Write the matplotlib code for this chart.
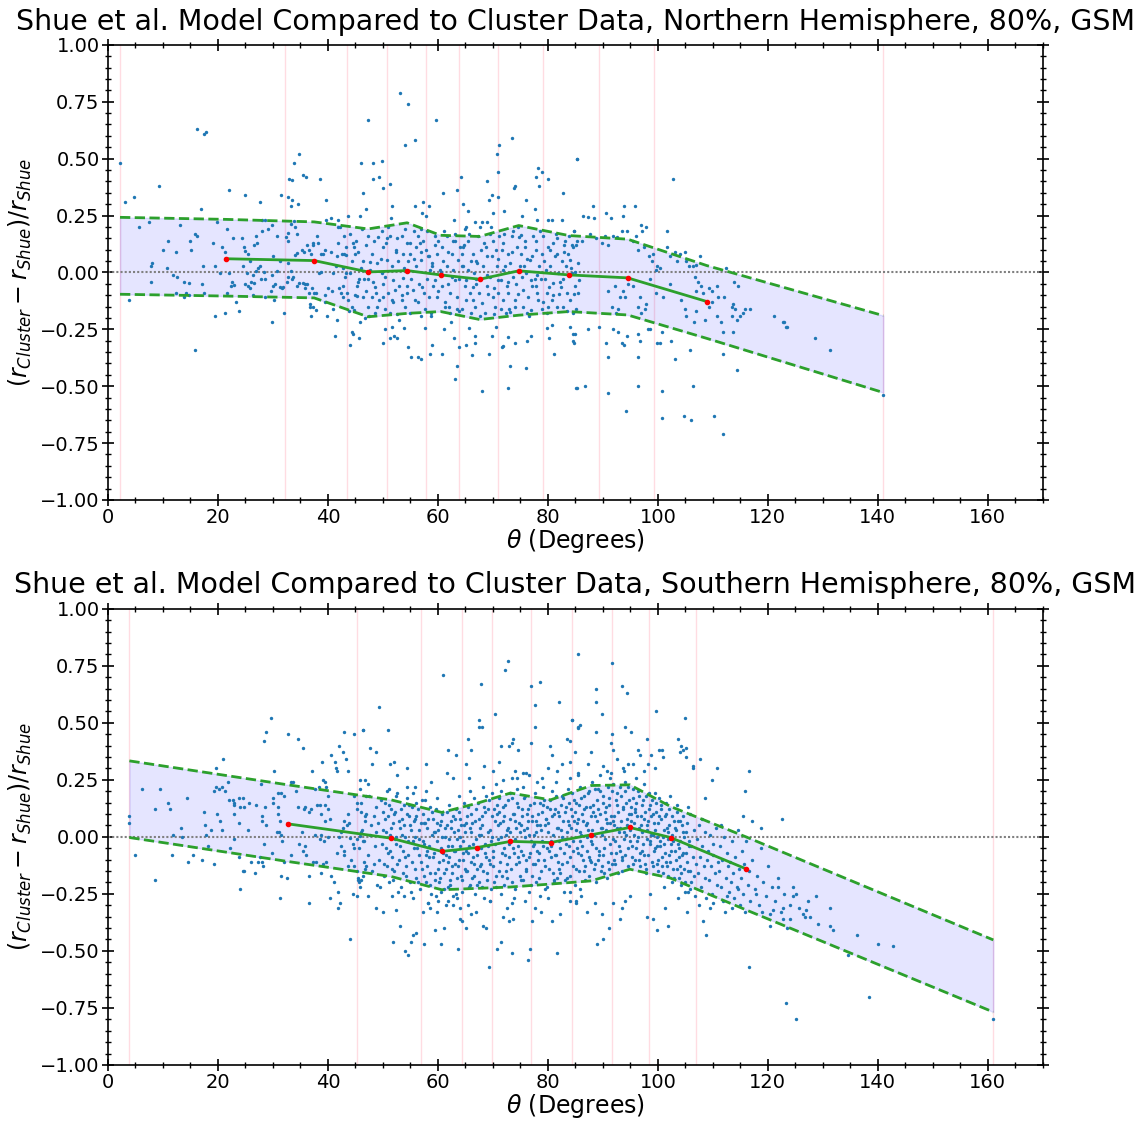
import matplotlib
matplotlib.use("Agg")
import matplotlib.pyplot as plt
from matplotlib.ticker import MultipleLocator

# ---------------- data ----------------
north_title = "Shue et al. Model Compared to Cluster Data, Northern Hemisphere, 80%, GSM"
south_title = "Shue et al. Model Compared to Cluster Data, Southern Hemisphere, 80%, GSM"
x_label = r"$\theta$ (Degrees)"
y_label = r"$(r_{Cluster} - r_{Shue})/r_{Shue}$"

north_bin_edges = [2.2, 32.2, 43.5, 50.8, 57.8, 63.9, 70.9, 79.2, 89.3, 99.3, 141.0]
north_med_theta = [21.5, 37.5, 47.3, 54.4, 60.5, 67.6, 74.7, 83.8, 94.5, 108.9]
north_med_value = [0.060, 0.052, 0.002, 0.008, -0.011, -0.030, 0.007, -0.011, -0.024, -0.128]
north_upper = [0.242, 0.233, 0.222, 0.191, 0.218, 0.163, 0.158, 0.206, 0.162, 0.146, 0.030, -0.190]
north_lower = [-0.096, -0.104, -0.112, -0.195, -0.180, -0.172, -0.207, -0.188, -0.172, -0.187, -0.290, -0.528]

south_bin_edges = [3.9, 45.2, 57.0, 64.3, 69.9, 76.9, 84.3, 91.6, 98.4, 106.9, 161.0]
south_med_theta = [32.7, 51.5, 60.7, 67.1, 73.2, 80.5, 87.9, 94.9, 102.3, 116.0]
south_med_value = [0.057, -0.006, -0.064, -0.047, -0.020, -0.025, 0.009, 0.041, -0.003, -0.140]
south_upper = [0.333, 0.228, 0.162, 0.107, 0.147, 0.192, 0.162, 0.225, 0.228, 0.133, 0.000, -0.452]
south_lower = [-0.003, -0.108, -0.174, -0.232, -0.226, -0.220, -0.207, -0.193, -0.142, -0.181, -0.320, -0.768]

north_points = [
    (2.2,0.48),(16.2,0.63),(17.5,0.61),(17.9,0.615),(3.1,0.31),(4.8,0.33),(9.2,0.38),(22.1,0.36),(24.9,0.34),(27.6,0.31),
    (17.0,0.28),(34.7,0.52),(33.9,0.48),(35.5,0.43),(36.1,0.42),(32.9,0.41),(33.5,0.405),(38.5,0.41),(31.5,0.34),(32.7,0.33),
    (33.4,0.32),(33.2,0.29),(34.5,0.30),(39.6,0.32),(5.6,0.20),(7.5,0.22),(13.1,0.21),(11.0,0.14),(10.1,0.10),(12.3,0.09),
    (15.0,0.14),(15.1,0.10),(15.9,0.17),(16.2,0.16),(8.0,0.04),(7.9,0.03),(10.7,0.02),(11.8,-0.01),(12.6,-0.02),(7.9,-0.04),
    (3.8,-0.12),(13.9,-0.04),(14.7,-0.045),(12.4,-0.09),(13.9,-0.11),(14.2,-0.09),(14.8,-0.10),(17.2,0.03),(17.1,-0.05),(17.4,-0.09),
    (19.1,0.13),(19.9,0.22),(19.4,0.03),(20.4,-0.003),(20.8,0.11),(21.6,0.19),(22.7,0.15),(21.2,0.09),(22.0,-0.004),(22.5,-0.04),
    (22.4,-0.06),(23.0,-0.056),(21.6,-0.09),(23.3,-0.13),(19.4,-0.19),(21.2,-0.18),(23.9,-0.17),(15.9,-0.34),(24.4,0.15),(24.7,0.11),
    (25.0,0.094),(24.6,0.03),(25.5,0.08),(25.8,0.05),(25.2,-0.004),(25.0,-0.05),(25.5,-0.06),(26.4,-0.01),(26.9,0.004),(27.3,0.02),
    (26.5,0.12),(27.1,0.13),(27.0,0.16),(28.0,0.23),(28.5,0.23),(28.0,0.18),(29.1,0.19),(29.9,0.21),(27.6,0.03),(28.3,0.0),
    (26.1,-0.04),(26.5,-0.045),(27.8,-0.03),(28.6,-0.03),(25.8,-0.07),(26.4,-0.10),(28.5,-0.11),(29.6,-0.08),(30.0,-0.06),(30.3,-0.05),
    (29.8,-0.01),(30.7,0.004),(30.0,0.07),(30.8,0.16),(31.2,0.05),(30.2,-0.12),(29.8,-0.22),(32.0,-0.18),(31.2,-0.066),(31.6,-0.068),
    (31.9,-0.066),(32.5,-0.04),(32.7,-0.02),(33.2,0.005),(32.7,0.04),(32.4,0.157),(32.8,0.172),(32.8,0.137),(33.3,0.213),(33.8,0.226),
    (34.1,0.198),(34.3,0.169),(34.3,0.084),(34.1,0.077),(33.5,-0.03),(33.7,-0.02),(34.4,-0.06),(34.8,-0.047),(35.5,-0.048),(35.8,-0.052),
    (36.2,-0.05),(35.2,0.10),(35.6,0.09),(36.2,0.12),(36.5,0.10),(36.9,0.08),(37.2,0.12),(38.1,0.16),(37.3,0.13),(38.2,0.128),
    (38.8,0.08),(39.1,0.08),(39.4,0.10),(35.8,-0.07),(36.6,-0.09),(37.1,-0.07),(37.5,-0.09),(37.9,-0.092),(36.8,-0.14),(37.3,-0.15),
    (37.8,-0.165),(36.7,-0.15),(36.9,-0.19),(38.4,-0.003),(38.8,-0.0),(39.5,-0.10),(39.8,-0.19),(39.4,-0.13),(40.1,-0.07),(40.7,-0.08),
    (40.9,-0.004),(40.6,0.09),(41.4,0.03),(41.8,0.13),(41.7,0.07),(42.1,-0.07),(42.4,-0.09),(42.8,-0.11),(43.2,-0.003),(43.0,0.08),
    (39.6,0.23),(40.5,0.24),(41.8,0.23),(41.9,0.20),(41.3,-0.28),(41.6,-0.21),(40.9,-0.16),
    # 42-86 outliers
    (53.2,0.79),(54.6,0.74),(47.3,0.67),(59.6,0.67),(54.1,0.56),(55.9,0.58),(73.4,0.59),(71.2,0.56),(70.7,0.52),(70.9,0.44),
    (46.1,0.48),(48.2,0.48),(49.8,0.49),(48.2,0.41),(49.3,0.42),(50.1,0.37),(51.3,0.39),(46.4,0.35),(47.0,0.28),(45.9,0.25),
    (43.6,0.25),(51.6,0.29),(51.5,0.24),(55.8,0.29),(57.3,0.31),(57.9,0.25),(58.4,0.29),(57.2,0.26),(60.9,0.35),(63.5,0.36),
    (64.2,0.42),(64.6,0.30),(65.5,0.27),(63.0,0.23),(65.2,0.20),(69.0,0.40),(69.3,0.32),(69.8,0.34),(70.1,0.26),(70.9,0.33),
    (72.0,0.27),(73.8,0.37),(74.1,0.38),(75.3,0.25),(76.1,0.32),(77.6,0.28),(78.1,0.23),(77.9,0.42),(78.4,0.38),(79.0,0.44),
    (80.1,0.41),(78.2,0.46),(82.8,0.35),(82.6,0.23),(85.3,0.50),(66.7,0.22),(67.6,0.20),(68.1,0.22),(69.0,0.22),(80.1,0.23),(80.8,0.23),
    (44.3,-0.26),(44.6,-0.27),(44.1,-0.32),(45.6,-0.29),(50.1,-0.31),(50.4,-0.25),(51.6,-0.24),(51.3,-0.29),(52.1,-0.28),(52.6,-0.29),
    (53.9,-0.245),(54.6,-0.33),(55.2,-0.37),(56.4,-0.37),(57.0,-0.38),(57.6,-0.245),(58.9,-0.32),(58.5,-0.36),(60.7,-0.36),(61.1,-0.25),
    (62.3,-0.22),(63.0,-0.29),(63.5,-0.41),(63.2,-0.47),(63.9,-0.33),(65.2,-0.32),(65.6,-0.245),(66.2,-0.365),(66.7,-0.28),(66.7,-0.31),
    (68.1,-0.52),(69.3,-0.36),(69.8,-0.28),(70.5,-0.24),(71.6,-0.33),(71.9,-0.325),(72.7,-0.51),(73.2,-0.41),(72.8,-0.285),(74.1,-0.31),
    (76.0,-0.42),(76.2,-0.30),(77.0,-0.28),(79.8,-0.245),(80.2,-0.29),(80.8,-0.23),(81.2,-0.36),(84.9,-0.27),(84.7,-0.31),(85.3,-0.51),
    # 42-86 dense band
    (42.5,0.08),(43.3,0.075),(43.1,-0.02),(42.7,-0.06),(43.4,-0.09),(44.0,-0.003),(44.3,0.05),(44.7,0.11),(45.1,0.14),(45.0,0.083),
    (45.5,0.09),(43.7,-0.12),(44.3,-0.15),(44.7,-0.165),(45.2,-0.06),(45.3,-0.105),(45.7,-0.03),(42.9,0.16),(44.0,0.17),(42.2,0.20),
    (46.0,0.02),(46.4,0.05),(46.5,-0.03),(47.0,0.12),(47.3,0.16),(47.6,0.047),(48.0,0.08),(48.2,-0.04),(48.5,-0.063),(48.7,-0.09),
    (48.0,-0.11),(48.9,0.04),(49.2,0.155),(49.3,-0.12),(47.3,-0.15),(46.4,-0.108),(47.5,-0.19),(48.5,-0.18),(45.8,-0.22),(46.7,-0.20),
    (49.8,0.18),(50.1,0.11),(50.6,0.13),(50.7,0.053),(51.3,0.16),(51.6,0.026),(51.9,-0.033),(52.2,-0.077),(52.5,0.15),(52.8,0.05),
    (50.1,-0.05),(50.0,-0.106),(50.4,-0.16),(51.3,-0.18),(51.9,-0.128),(53.0,-0.06),(51.0,-0.09),(52.6,-0.183),(49.8,-0.003),(52.4,0.09),
    (53.4,0.16),(54.0,0.19),(54.3,0.128),(54.6,0.05),(54.9,0.08),(55.2,-0.03),(55.5,-0.077),(55.8,-0.12),(56.1,0.11),(56.4,0.16),
    (56.7,0.13),(53.7,-0.025),(54.3,-0.09),(54.0,-0.15),(54.9,-0.18),(53.4,-0.12),(56.1,0.026),(56.6,-0.05),(55.6,0.18),(53.6,0.083),
    (57.0,0.053),(57.3,0.14),(57.8,0.10),(58.1,0.18),(58.6,0.01),(58.9,0.026),(59.2,-0.06),(59.5,-0.033),(59.8,-0.11),(58.3,-0.106),
    (57.7,-0.16),(58.7,-0.18),(60.1,0.14),(57.2,-0.063),(58.0,-0.03),(59.9,0.08),(59.4,0.16),(58.4,0.07),(60.3,0.01),(57.0,-0.19),
    (60.7,0.11),(61.0,0.05),(61.6,0.16),(61.9,-0.05),(62.2,-0.09),(62.5,0.08),(62.8,0.14),(63.1,-0.033),(63.4,-0.107),(63.7,0.053),
    (61.3,-0.15),(62.2,-0.18),(64.0,0.11),(62.8,0.01),(60.7,-0.06),(61.6,0.026),(63.4,-0.16),(63.9,-0.027),(61.1,0.18),(63.1,0.17),
    (64.3,0.08),(64.6,0.026),(65.1,-0.033),(65.5,0.14),(65.8,-0.09),(66.1,0.05),(66.4,0.083),(66.7,-0.15),(67.0,-0.03),(67.3,0.16),
    (65.2,-0.12),(64.6,0.11),(66.3,-0.063),(67.2,0.04),(64.3,-0.16),(66.0,-0.18),(64.9,0.19),(67.5,-0.09),(66.5,-0.004),(65.5,0.01),
    (67.9,0.10),(68.2,0.026),(68.7,0.11),(68.9,-0.06),(69.2,-0.093),(69.5,-0.02),(69.8,0.07),(70.1,0.14),(70.4,-0.15),(70.7,0.03),
    (71.0,-0.033),(68.1,-0.136),(68.5,-0.18),(70.0,-0.106),(69.4,0.17),(70.6,0.10),(71.2,0.16),(67.8,-0.027),(70.2,-0.183),(71.0,-0.09),
    (71.6,0.10),(71.9,0.13),(72.2,0.026),(72.5,-0.06),(72.8,-0.09),(73.1,0.04),(73.4,0.16),(73.7,-0.02),(74.0,-0.15),(74.3,0.11),
    (74.6,-0.093),(74.9,0.026),(71.8,-0.12),(72.4,-0.18),(73.2,-0.176),(74.2,-0.05),(71.4,-0.033),(74.8,0.156),(72.8,0.083),(73.7,0.18),
    (75.2,0.08),(75.5,-0.077),(75.8,0.11),(76.1,-0.003),(76.4,-0.106),(76.7,0.053),(77.0,-0.165),(77.3,0.16),(77.6,-0.03),(77.9,0.10),
    (78.2,-0.12),(75.4,-0.15),(76.2,-0.18),(77.2,-0.06),(78.4,0.026),(75.2,0.163),(77.8,0.14),(76.9,-0.033),(75.6,0.03),(78.1,-0.09),
    (78.9,0.08),(79.2,0.16),(79.5,-0.03),(79.8,-0.09),(80.1,0.11),(80.4,0.026),(80.7,-0.12),(81.0,-0.047),(81.3,0.07),(81.6,-0.15),
    (81.9,-0.004),(79.0,-0.16),(79.9,-0.18),(80.9,0.13),(82.1,-0.093),(79.3,0.05),(80.2,-0.063),(81.5,0.17),(78.7,-0.027),(81.7,0.083),
    (82.5,0.05),(82.8,-0.03),(83.1,0.14),(83.4,-0.09),(83.7,0.08),(84.0,-0.12),(84.3,-0.004),(84.6,0.11),(84.9,-0.06),(85.2,-0.16),
    (85.5,0.04),(82.7,-0.15),(83.9,0.16),(84.7,-0.093),(85.7,-0.033),(83.3,0.026),(84.5,-0.18),(85.3,0.14),(82.3,-0.063),(84.1,0.053),
    (42.8,0.02),(43.9,-0.17),(44.6,0.13),(45.4,-0.04),(46.2,0.19),(46.9,-0.08),(47.6,0.01),(48.4,0.14),(49.0,-0.15),(49.6,0.06),
    (50.4,-0.02),(51.0,0.20),(51.7,-0.12),(52.3,0.10),(53.0,-0.21),(53.8,0.02),(54.4,-0.06),(55.0,0.13),(55.7,0.06),(56.3,-0.13),
    (56.9,0.19),(57.5,-0.09),(58.2,0.07),(58.8,-0.19),(59.5,0.12),(60.0,-0.08),(60.6,0.0),(61.3,-0.13),(61.9,0.09),(62.5,-0.02),
    (63.2,0.14),(63.8,-0.17),(64.4,0.03),(65.0,-0.06),(65.7,0.17),(66.3,-0.12),(66.9,0.05),(67.6,-0.19),(68.3,0.13),(68.9,-0.01),
    (69.6,0.20),(70.2,-0.07),(70.9,0.06),(71.5,-0.16),(72.1,0.17),(72.8,-0.04),(73.4,0.09),(74.0,-0.12),(74.6,0.20),(75.3,-0.02),
    (75.9,0.14),(76.6,-0.19),(77.2,0.07),(77.8,-0.06),(78.5,0.18),(79.1,-0.13),(79.7,0.01),(80.4,0.10),(81.0,-0.10),(81.6,0.15),
    (82.2,-0.04),(82.9,0.09),(83.5,-0.17),(84.2,0.02),(84.8,0.18),(85.5,-0.09),(43.3,0.11),(44.9,-0.10),(47.2,-0.03),(50.8,0.15),
    (53.5,-0.10),(57.0,0.09),(59.0,0.04),(62.0,-0.15),(64.8,0.12),(67.0,-0.05),(69.0,0.07),(71.8,0.01),(73.0,-0.16),(76.2,0.06),
    (78.0,-0.01),(80.0,-0.15),(83.0,0.12),(85.0,0.0),
    # 84-128
    (86.4,0.25),(87.3,0.245),(88.2,0.29),(88.4,0.24),(90.5,0.26),(91.4,0.24),(93.8,0.29),(95.9,0.29),(93.7,0.25),
    (96.9,0.21),(97.8,0.20),(97.2,0.18),(101.6,0.18),(84.7,0.18),(84.4,0.12),(85.1,0.12),(86.2,0.14),(87.6,0.17),(88.7,0.15),
    (89.9,0.13),(91.0,0.12),(90.3,0.16),(91.8,0.16),(92.5,0.155),(93.4,0.18),(94.3,0.18),(95.5,0.14),(96.1,0.16),(96.4,0.10),
    (97.5,0.11),(98.4,0.07),(99.2,0.08),(99.0,0.05),(99.9,0.026),(99.6,0.01),(100.4,0.02),(101.6,0.11),(102.2,0.07),(103.1,0.09),
    (104.0,0.08),(104.9,0.09),(103.5,0.05),(105.2,0.05),(105.7,0.026),(106.4,0.03),(106.9,0.034),(107.6,0.07),(106.7,-0.02),(107.3,-0.04),
    (107.9,-0.06),(107.0,-0.08),(108.2,-0.09),(109.3,-0.07),(109.8,-0.08),(110.7,-0.06),(111.0,-0.11),(112.0,-0.106),(112.4,0.02),(113.9,-0.04),
    (114.6,-0.06),(113.7,-0.14),(113.4,-0.15),(114.1,-0.16),(115.4,-0.18),(115.8,-0.16),(114.9,-0.19),(114.3,-0.21),(116.7,-0.16),(121.1,-0.19),
    (122.8,-0.22),(123.3,-0.24),(91.0,-0.08),(91.6,-0.15),(92.4,-0.18),(92.8,-0.16),(93.1,-0.11),(92.2,-0.06),(93.7,-0.08),(94.0,-0.11),
    (94.6,-0.05),(95.5,-0.06),(96.4,-0.15),(97.0,-0.18),(97.6,-0.16),(97.9,-0.14),(96.7,-0.11),(98.5,-0.03),(99.6,-0.09),(101.0,-0.11),
    (102.2,-0.05),(104.2,-0.12),(104.9,-0.16),(105.2,-0.19),(106.5,-0.22),(106.9,-0.17),(108.5,-0.21),(109.3,-0.15),(109.8,-0.13),(110.7,-0.19),
    (111.4,-0.22),(111.9,-0.26),(113.6,-0.26),(113.5,-0.19),(84.0,-0.24),(84.6,-0.27),(84.6,-0.30),(87.3,-0.25),(89.3,-0.24),(90.5,-0.31),
    (91.0,-0.37),(91.9,-0.25),(92.8,-0.26),(93.4,-0.31),(93.9,-0.32),(94.3,-0.28),(96.4,-0.27),(96.4,-0.37),(96.8,-0.30),(98.2,-0.25),
    (98.6,-0.25),(99.9,-0.31),(100.4,-0.31),(100.8,-0.26),(102.3,-0.30),(103.1,-0.38),(105.9,-0.34),(111.9,-0.36),(114.4,-0.43),(85.2,-0.51),
    (86.7,-0.50),(91.0,-0.53),(94.2,-0.61),(96.4,-0.50),(100.8,-0.52),(100.7,-0.64),(104.7,-0.63),(106.1,-0.65),(106.4,-0.50),(110.2,-0.63),
    (111.9,-0.71),(85.3,0.50),(102.8,0.41),(123.0,-0.22),(123.4,-0.24),(128.5,-0.29),(131.3,-0.34),(141.0,-0.54),
]

south_points = [
    # 0-47
    (3.9,0.09),(3.9,0.06),(5.0,-0.08),(6.2,0.21),(8.5,0.12),(8.5,-0.19),(9.5,0.21),(10.9,0.15),(11.3,0.12),(11.6,-0.08),
    (11.9,0.01),(13.3,0.04),(13.4,0.0),(14.4,0.17),(14.5,-0.11),(15.5,-0.08),(17.1,-0.10),(17.4,0.11),(17.6,0.05),(18.2,-0.04),
    (17.8,0.01),(18.8,0.03),(19.2,-0.12),(19.3,0.20),(19.7,0.22),(20.2,0.21),(20.7,0.22),(21.2,0.20),(19.7,0.30),(21.0,0.34),
    (19.8,0.10),(20.4,0.07),(20.7,0.03),(21.9,0.24),(23.9,0.06),(23.0,-0.01),(22.2,-0.05),(23.8,-0.09),(24.1,-0.23),(25.5,0.03),
    (25.7,0.15),(28.4,0.42),(28.7,0.46),(29.6,0.52),(29.8,-0.07),(31.2,-0.27),(31.5,-0.17),(32.1,-0.11),(32.5,-0.18),
    (22.0,0.16),(22.7,0.16),(22.9,0.15),(23.0,0.10),(23.9,0.17),(24.5,0.17),(24.1,0.13),(24.8,0.13),(23.0,0.14),(24.5,-0.15),
    (24.8,-0.148),(26.1,-0.11),(26.7,-0.16),(27.3,-0.11),(28.0,-0.11),(28.2,-0.13),(27.6,-0.09),(27.0,0.14),(27.8,0.23),(28.5,0.13),
    (28.0,0.09),(28.0,0.07),(28.7,0.05),(28.4,-0.03),(30.0,0.17),(30.2,0.29),(30.0,0.15),(30.9,0.13),(31.0,0.10),(31.2,0.07),
    (31.0,0.19),(31.5,0.19),(32.0,0.18),(31.1,0.02),(30.8,0.02),(31.4,0.01),(31.6,-0.02),(32.8,0.45),(34.5,0.43),(35.5,0.39),
    (33.2,-0.08),(33.3,0.24),(33.6,0.24),(34.2,0.20),(34.5,0.13),(34.8,-0.03),(35.2,0.02),(35.5,-0.06),(35.8,-0.04),(36.1,-0.08),
    (35.6,0.12),(35.9,0.13),(36.6,0.11),(37.0,0.12),(37.1,0.29),(36.6,-0.17),(36.5,-0.29),(37.3,-0.11),(37.6,0.01),(37.9,-0.11),
    (37.7,0.21),(38.3,0.22),(38.9,0.33),(39.1,0.25),(39.4,0.24),(39.7,0.22),(40.0,0.18),(38.1,0.14),(38.5,0.14),(38.8,0.10),
    (39.5,0.14),(40.1,0.12),(40.4,0.08),(39.4,0.07),(38.8,0.01),(38.5,-0.01),(39.3,-0.02),(40.0,0.0),(38.7,-0.16),(39.1,-0.12),
    (39.7,-0.11),(40.3,-0.27),(40.5,-0.17),(41.1,-0.20),(41.8,-0.24),(41.9,-0.31),(42.2,-0.29),(41.7,-0.07),(42.1,0.0),(42.4,0.02),
    (42.7,0.04),(43.0,0.07),(43.5,0.05),(43.6,0.10),(43.9,0.06),(40.6,0.36),(41.2,0.33),(41.5,0.30),(41.6,0.29),(42.1,0.40),
    (42.7,0.37),(42.9,0.46),(43.3,0.34),(43.6,0.29),(44.8,0.45),(46.4,0.47),(43.0,-0.08),(43.6,-0.13),(44.2,-0.10),(44.8,-0.13),
    (45.2,-0.15),(45.5,-0.18),(45.6,-0.20),(45.9,-0.22),(46.1,-0.19),(46.4,-0.17),(46.7,-0.14),(47.0,-0.13),(44.1,-0.45),(44.5,-0.25),
    (45.2,-0.26),(44.8,0.18),(45.3,0.15),(45.8,0.25),(46.7,0.25),(47.0,0.18),(46.1,0.11),(46.7,0.09),(44.1,-0.003),(44.5,-0.03),
    (44.8,-0.05),(45.3,-0.01),(45.8,0.004),(46.1,0.02),(46.4,-0.02),(42.4,-0.04),(42.9,-0.06),
    # outliers 46-86
    (49.3,0.57),(46.4,0.47),(51.0,0.47),(60.9,0.71),(67.9,0.67),(72.7,0.77),(72.2,0.73),(76.9,0.66),(78.5,0.68),(77.6,0.58),
    (82.1,0.59),(84.4,0.51),(85.5,0.48),(70.4,0.54),(67.5,0.51),(68.1,0.48),(67.5,0.48),(77.6,0.48),(47.6,0.39),(48.8,0.37),
    (48.1,0.32),(65.5,0.43),(61.9,0.38),(63.3,0.36),(66.1,0.38),(73.0,0.40),(73.7,0.43),(73.5,0.41),(74.6,0.38),(77.0,0.41),
    (80.4,0.40),(71.4,0.40),(80.8,0.36),(83.4,0.43),(84.0,0.42),(51.3,0.32),(52.0,0.33),(54.3,0.30),(57.9,0.32),(52.5,0.27),
    (55.8,0.22),(58.8,0.24),(61.6,0.28),(62.8,0.26),(65.1,0.32),(65.7,0.26),(68.4,0.31),(70.1,0.29),(71.2,0.33),(74.0,0.29),
    (74.3,0.26),(75.5,0.28),(76.1,0.28),(76.6,0.27),(78.9,0.26),(80.1,0.30),(81.7,0.29),(82.5,0.32),(84.1,0.33),(85.5,0.28),
    (47.3,-0.26),(48.7,-0.31),(50.1,-0.33),(51.6,-0.26),(52.4,-0.32),(53.1,-0.39),(51.9,-0.46),(54.0,-0.50),(54.5,-0.52),(55.4,-0.43),
    (56.1,-0.42),(55.2,-0.46),(57.5,-0.47),(57.3,-0.33),(58.2,-0.29),(58.5,-0.31),(59.5,-0.41),(59.9,-0.33),(60.5,-0.47),(61.1,-0.40),
    (61.9,-0.28),(62.8,-0.30),(64.0,-0.31),(63.7,-0.49),(64.0,-0.36),(64.3,-0.37),(65.2,-0.40),(66.0,-0.34),(67.0,-0.33),(68.2,-0.39),
    (68.7,-0.40),(69.3,-0.57),(69.5,-0.28),(70.7,-0.49),(71.5,-0.46),(71.9,-0.35),(72.5,-0.31),(73.0,-0.37),(73.4,-0.29),(73.7,-0.36),
    (73.5,-0.51),(76.4,-0.54),(76.7,-0.49),(77.2,-0.37),(77.6,-0.31),(78.7,-0.33),(80.8,-0.37),(81.6,-0.51),(82.2,-0.34),(84.0,-0.28),
    (85.2,-0.29),
    # outliers 84-128
    (85.4,0.80),(91.7,0.76),(88.7,0.65),(93.4,0.66),(94.4,0.63),(88.7,0.59),(89.9,0.54),(99.6,0.55),(104.9,0.52),(85.8,0.49),
    (85.5,0.475),(88.8,0.46),(84.3,0.51),(91.6,0.45),(91.4,0.41),(94.0,0.48),(95.1,0.46),(98.1,0.43),(103.7,0.43),(104.2,0.40),
    (104.6,0.38),(105.1,0.39),(104.0,0.37),(105.1,0.35),(107.6,0.34),(106.3,0.31),(106.4,0.30),(110.7,0.30),(109.9,0.25),(108.6,0.17),
    (116.6,0.29),(115.8,0.20),(122.5,0.08),(115.5,0.09),(117.2,0.07),(118.8,0.04),(84.9,0.37),(87.3,0.32),(87.9,0.37),(90.7,0.29),
    (90.1,0.31),(91.3,0.26),(91.8,0.38),(92.5,0.34),(93.6,0.30),(94.6,0.32),(95.5,0.32),(96.4,0.38),(96.7,0.36),(97.5,0.29),
    (98.2,0.32),(98.8,0.36),(99.5,0.30),(100.2,0.38),(100.7,0.38),(101.0,0.35),(84.0,-0.24),(85.8,-0.23),(85.2,-0.28),(86.1,-0.26),
    (87.2,-0.33),(88.5,-0.29),(89.9,-0.34),(89.0,-0.47),(90.1,-0.45),(91.2,-0.40),(91.9,-0.29),(93.1,-0.36),(93.4,-0.31),(94.0,-0.28),
    (94.9,-0.26),(98.5,-0.25),(98.1,-0.35),(99.2,-0.36),(99.9,-0.41),(101.3,-0.31),(101.9,-0.39),(103.7,-0.27),(105.3,-0.33),(108.2,-0.37),
    (108.8,-0.43),(110.1,-0.29),(112.5,-0.26),(113.4,-0.31),(114.6,-0.23),(116.5,-0.57),(117.9,-0.25),(119.0,-0.33),(120.4,-0.39),(121.0,-0.32),
    (122.8,-0.36),(124.0,-0.36),(125.7,-0.31),(126.4,-0.34),(127.3,-0.28),(127.6,-0.35),
    (122.7,-0.31),(121.8,-0.22),(124.5,-0.26),(125.2,-0.25),(126.7,-0.35),(127.0,-0.32),(128.8,-0.26),(129.1,-0.38),(131.3,-0.39),(131.3,-0.31),
    (131.8,-0.41),(123.3,-0.73),(125.2,-0.80),(136.2,-0.43),(138.4,-0.70),(140.0,-0.47),(142.7,-0.48),(134.5,-0.52),(161.0,-0.80),
    # dense band 45-125
    (45.3,0.12),(45.6,-0.05),(45.9,0.21),(46.2,0.03),(46.5,-0.11),(46.8,0.07),(45.4,-0.19),(46.0,0.15),(46.6,-0.02),(47.0,0.10),
    (47.2,-0.08),(47.5,0.18),(47.7,0.01),(48.0,-0.15),(48.3,0.09),(48.5,-0.04),(48.7,0.13),(48.9,-0.21),(47.9,0.05),(48.4,-0.12),(47.3,0.23),(48.8,0.02),
    (49.1,0.06),(49.3,-0.10),(49.6,0.16),(49.8,-0.03),(50.0,0.11),(50.2,-0.17),(50.5,0.02),(50.7,0.20),(50.9,-0.07),(49.4,-0.22),(50.3,0.08),(50.8,-0.13),
    (51.1,0.14),(51.3,-0.06),(51.5,0.04),(51.8,-0.19),(52.0,0.10),(52.2,-0.01),(52.4,0.18),(52.6,-0.12),(52.9,0.07),(51.6,-0.14),(52.3,0.0),(52.8,-0.24),(51.2,0.21),
    (53.1,-0.04),(53.3,0.12),(53.6,-0.16),(53.8,0.05),(54.0,-0.09),(54.3,0.17),(54.5,-0.02),(54.7,0.09),(54.9,-0.20),(53.5,0.01),(54.2,-0.13),(54.8,0.14),(53.9,-0.26),(54.4,0.22),
    (55.1,0.03),(55.3,-0.11),(55.5,0.19),(55.7,-0.05),(55.9,0.08),(56.1,-0.18),(56.3,0.12),(56.5,-0.01),(56.7,-0.23),(56.9,0.06),(55.4,-0.27),(56.0,0.15),(56.6,-0.08),(55.8,0.0),
    (57.1,-0.14),(57.3,0.10),(57.5,-0.03),(57.7,0.16),(57.9,-0.20),(58.1,0.04),(58.3,-0.09),(58.5,0.13),(58.7,-0.25),(58.9,0.01),(57.4,0.06),(58.0,-0.06),(58.6,-0.16),(57.8,0.20),(58.2,-0.29),
    (59.1,0.08),(59.3,-0.07),(59.5,-0.19),(59.7,0.12),(59.9,-0.02),(60.1,-0.14),(60.3,0.05),(60.5,-0.24),(60.7,0.10),(60.9,-0.10),(59.4,0.02),(60.0,-0.28),(60.6,-0.05),(59.8,0.17),(60.2,-0.20),(60.8,0.0),
    (61.1,-0.16),(61.3,0.04),(61.5,-0.08),(61.7,0.11),(61.9,-0.22),(62.1,-0.01),(62.3,0.07),(62.5,-0.13),(62.7,-0.26),(62.9,0.02),(61.4,-0.30),(62.0,0.14),(62.6,-0.04),(61.8,-0.11),(62.2,-0.19),(62.8,0.09),
    (63.1,-0.06),(63.3,0.12),(63.5,-0.18),(63.7,0.03),(63.9,-0.10),(64.1,0.08),(64.3,-0.24),(64.5,-0.02),(64.7,0.15),(64.9,-0.14),(63.4,-0.27),(64.0,0.0),(64.6,-0.07),(63.8,0.18),(64.2,-0.17),(64.8,0.05),(63.2,-0.12),
    (65.1,0.06),(65.3,-0.15),(65.5,0.13),(65.7,-0.04),(65.9,-0.21),(66.1,0.02),(66.3,-0.09),(66.5,0.17),(66.7,-0.25),(66.9,-0.01),(65.4,-0.30),(66.0,0.10),(66.6,-0.12),(65.8,0.20),(66.2,-0.18),(66.8,0.07),(65.2,-0.06),
    (67.1,-0.08),(67.3,0.15),(67.5,-0.20),(67.7,0.04),(67.9,-0.12),(68.1,0.09),(68.3,-0.27),(68.5,-0.03),(68.7,0.18),(68.9,-0.16),(67.4,0.01),(68.0,-0.22),(68.6,0.11),(67.8,-0.05),(68.2,0.22),(68.8,-0.09),(67.2,-0.14),
    (69.1,0.12),(69.3,-0.10),(69.5,0.03),(69.7,-0.23),(69.9,0.19),(70.1,-0.06),(70.3,0.07),(70.5,-0.17),(70.7,0.14),(70.9,-0.01),(69.4,-0.28),(70.0,-0.13),(70.6,0.23),(69.8,0.0),(70.2,-0.20),(70.8,0.10),(69.2,-0.04),
    (71.1,-0.15),(71.3,0.06),(71.5,0.20),(71.7,-0.07),(71.9,0.13),(72.1,-0.21),(72.3,0.01),(72.5,-0.12),(72.7,0.16),(72.9,-0.03),(71.4,-0.25),(72.0,0.09),(72.6,-0.18),(71.8,0.25),(72.2,-0.08),(72.8,0.04),(71.2,0.11),
    (73.1,0.02),(73.3,-0.14),(73.5,0.17),(73.7,-0.05),(73.9,0.10),(74.1,-0.23),(74.3,0.21),(74.5,-0.09),(74.7,0.06),(74.9,-0.17),(73.4,0.26),(74.0,-0.01),(74.6,0.13),(73.8,-0.27),(74.2,0.04),(74.8,-0.11),(73.2,0.08),
    (75.1,-0.06),(75.3,0.12),(75.5,-0.19),(75.7,0.03),(75.9,0.18),(76.1,-0.10),(76.3,0.07),(76.5,-0.24),(76.7,0.14),(76.9,-0.02),(75.4,0.22),(76.0,-0.15),(76.6,0.01),(75.8,-0.28),(76.2,0.10),(76.8,-0.07),(75.2,0.05),
    (77.1,0.09),(77.3,-0.12),(77.5,0.01),(77.7,0.19),(77.9,-0.20),(78.1,0.05),(78.3,-0.07),(78.5,0.15),(78.7,-0.15),(78.9,0.11),(77.4,-0.03),(78.0,0.24),(78.6,-0.26),(77.8,0.07),(78.2,-0.10),(78.8,0.03),(77.2,-0.17),
    (79.1,-0.04),(79.3,0.16),(79.5,-0.13),(79.7,0.08),(79.9,-0.22),(80.1,0.02),(80.3,0.12),(80.5,-0.09),(80.7,0.20),(80.9,-0.16),(79.4,0.05),(80.0,-0.27),(80.6,-0.02),(79.8,0.13),(80.2,-0.06),(80.8,0.09),(79.2,0.22),
    (81.1,0.10),(81.3,-0.08),(81.5,0.18),(81.7,-0.18),(81.9,0.04),(82.1,-0.02),(82.3,0.14),(82.5,-0.12),(82.7,0.07),(82.9,-0.24),(81.4,0.24),(82.0,-0.14),(82.6,0.0),(81.8,0.11),(82.2,-0.05),(82.8,0.17),(81.2,-0.20),
    (83.1,-0.01),(83.3,0.13),(83.5,-0.11),(83.7,0.21),(83.9,0.05),(84.1,-0.17),(84.3,0.09),(84.5,-0.06),(84.7,0.16),(84.9,-0.21),(83.4,0.02),(84.0,0.26),(84.6,-0.13),(83.8,-0.04),(84.2,0.12),(84.8,0.07),(83.2,-0.19),
    (85.1,0.15),(85.3,-0.05),(85.5,0.08),(85.7,-0.15),(85.9,0.22),(86.1,0.01),(86.3,-0.10),(86.5,0.12),(86.7,-0.19),(86.9,0.05),(85.4,0.27),(86.0,-0.08),(86.6,0.18),(85.8,-0.02),(86.2,0.10),(86.8,-0.13),(85.2,0.03),
    (87.1,0.06),(87.3,0.19),(87.5,-0.09),(87.7,0.13),(87.9,-0.02),(88.1,0.24),(88.3,-0.14),(88.5,0.09),(88.7,-0.05),(88.9,0.16),(87.4,-0.17),(88.0,0.03),(88.6,0.21),(87.8,-0.11),(88.2,0.11),(88.8,-0.20),(87.2,0.0),
    (89.1,0.12),(89.3,-0.06),(89.5,0.20),(89.7,0.04),(89.9,-0.13),(90.1,0.15),(90.3,-0.01),(90.5,0.08),(90.7,-0.18),(90.9,0.22),(89.4,0.27),(90.0,-0.08),(90.6,0.13),(89.8,0.01),(90.2,-0.16),(90.8,0.06),(89.2,-0.10),
    (91.1,0.17),(91.3,-0.03),(91.5,0.09),(91.7,-0.12),(91.9,0.23),(92.1,0.05),(92.3,-0.07),(92.5,0.14),(92.7,-0.16),(92.9,0.02),(91.4,0.28),(92.0,-0.10),(92.6,0.19),(91.8,0.07),(92.2,-0.02),(92.8,0.11),(91.2,-0.14),
    (93.1,0.04),(93.3,0.18),(93.5,-0.09),(93.7,0.12),(93.9,-0.01),(94.1,0.24),(94.3,0.08),(94.5,-0.13),(94.7,0.16),(94.9,0.03),(93.4,-0.15),(94.0,0.20),(94.6,-0.05),(93.8,0.29),(94.2,0.01),(94.8,0.10),(93.2,-0.06),
    (95.1,0.13),(95.3,-0.04),(95.5,0.21),(95.7,0.06),(95.9,-0.10),(96.1,0.15),(96.3,0.0),(96.5,0.18),(96.7,-0.07),(96.9,0.09),(95.4,-0.12),(96.0,0.26),(96.6,0.04),(95.8,0.11),(96.2,-0.02),(96.8,-0.13),(95.2,0.07),
    (97.1,0.02),(97.3,0.16),(97.5,-0.08),(97.7,0.11),(97.9,-0.14),(98.1,0.05),(98.3,0.19),(98.5,-0.03),(98.7,0.09),(98.9,-0.11),(97.4,0.23),(98.0,-0.01),(98.6,0.14),(97.8,-0.16),(98.2,0.07),(98.8,0.01),(97.2,-0.06),
    (99.1,0.10),(99.3,-0.06),(99.5,0.03),(99.7,0.15),(99.9,-0.12),(100.1,0.06),(100.3,-0.02),(100.5,0.12),(100.7,-0.09),(100.9,0.0),(99.4,0.19),(100.0,-0.15),(100.6,0.08),(99.8,-0.04),(100.2,0.17),(100.8,-0.13),(99.2,0.01),
    (101.1,-0.03),(101.3,0.09),(101.5,-0.11),(101.7,0.04),(101.9,-0.17),(102.1,0.12),(102.3,-0.06),(102.5,0.01),(102.7,-0.14),(102.9,0.07),(101.4,0.15),(102.0,-0.08),(102.6,-0.20),(101.8,0.02),(102.2,0.18),(102.8,-0.02),(101.2,-0.22),
    (103.1,0.04),(103.3,-0.10),(103.5,0.11),(103.7,-0.03),(103.9,-0.18),(104.1,0.07),(104.3,-0.08),(104.5,0.02),(104.7,-0.14),(104.9,-0.24),(103.4,0.14),(104.0,-0.13),(104.6,0.09),(103.8,-0.05),(104.2,-0.21),(104.8,0.0),
    (105.1,-0.07),(105.3,0.06),(105.5,-0.15),(105.7,-0.02),(105.9,0.10),(106.1,-0.20),(106.3,-0.09),(106.5,0.03),(106.7,-0.26),(106.9,-0.12),(105.4,0.13),(106.0,-0.04),(106.6,-0.17),(105.8,-0.23),
    (107.1,-0.01),(107.3,-0.16),(107.5,0.05),(107.7,-0.09),(107.9,-0.22),(108.1,-0.04),(108.3,-0.13),(108.5,0.02),(108.7,-0.27),(108.9,-0.10),(107.4,-0.30),(108.0,0.08),(108.6,-0.18),
    (109.1,-0.06),(109.3,-0.19),(109.5,0.01),(109.7,-0.13),(109.9,-0.25),(110.1,-0.08),(110.3,-0.16),(110.5,0.04),(110.7,-0.21),(110.9,-0.11),(109.4,-0.31),(110.0,-0.03),
    (111.1,-0.15),(111.3,-0.04),(111.5,-0.22),(111.7,-0.10),(111.9,-0.28),(112.1,0.0),(112.3,-0.18),(112.5,-0.07),(112.7,-0.13),(112.9,-0.24),(111.4,0.05),(112.2,-0.33),
    (113.1,-0.11),(113.3,-0.20),(113.5,-0.02),(113.7,-0.16),(113.9,-0.27),(114.1,-0.09),(114.3,-0.22),(114.5,0.03),(114.7,-0.14),(114.9,-0.30),
    (115.1,-0.18),(115.3,-0.06),(115.5,-0.25),(115.7,-0.12),(115.9,-0.33),(116.1,-0.02),(116.3,-0.21),(116.5,-0.15),(116.8,-0.28),
    (117.2,-0.10),(117.6,-0.23),(118.0,-0.17),(118.4,-0.30),(118.8,-0.05),(119.2,-0.20),(119.6,-0.26),(120.0,-0.13),(120.4,-0.34),(120.8,-0.22),
    (121.3,-0.28),(121.8,-0.18),(122.4,-0.33),(122.9,-0.25),(123.5,-0.40),(124.0,-0.30),(124.6,-0.22),
    # dense band, second pass 50-106
    (50.05,0.03),(50.25,-0.12),(50.45,0.15),(50.65,-0.05),(50.85,0.09),(51.05,-0.20),(51.25,0.01),(51.45,0.12),(51.65,-0.09),(51.85,0.06),
    (52.05,-0.15),(52.25,0.11),(52.45,-0.03),(52.65,0.19),(52.85,-0.10),(53.05,0.04),(53.25,-0.22),(53.45,0.08),(53.65,-0.06),(53.85,0.14),
    (54.05,0.0),(54.25,-0.17),(54.45,0.10),(54.65,-0.08),(54.85,0.05),(55.05,-0.24),(55.25,0.13),(55.45,-0.02),(55.65,0.07),(55.85,-0.14),
    (56.05,0.09),(56.25,-0.05),(56.45,-0.20),(56.65,0.03),(56.85,-0.11),(57.05,0.16),(57.25,-0.02),(57.45,-0.17),(57.65,0.06),(57.85,-0.08),
    (58.05,-0.13),(58.25,0.08),(58.45,-0.04),(58.65,-0.21),(58.85,0.11),(59.05,-0.09),(59.25,0.02),(59.45,-0.16),(59.65,-0.26),(59.85,0.06),
    (60.05,0.03),(60.25,-0.11),(60.45,-0.18),(60.65,0.07),(60.85,-0.07),(61.05,-0.23),(61.25,0.0),(61.45,-0.14),(61.65,0.05),(61.85,-0.04),
    (62.05,-0.09),(62.25,-0.21),(62.45,0.04),(62.65,-0.16),(62.85,-0.06),(63.05,0.08),(63.25,-0.25),(63.45,-0.01),(63.65,-0.13),(63.85,0.11),
    (64.05,-0.04),(64.25,0.05),(64.45,-0.19),(64.65,-0.10),(64.85,0.02),(65.05,-0.15),(65.25,0.09),(65.45,-0.07),(65.65,-0.22),(65.85,0.04),
    (66.05,-0.11),(66.25,0.06),(66.45,-0.03),(66.65,-0.17),(66.85,0.12),(67.05,-0.21),(67.25,-0.05),(67.45,0.08),(67.65,-0.13),(67.85,0.01),
    (68.05,0.05),(68.25,-0.15),(68.45,0.13),(68.65,-0.07),(68.85,-0.19),(69.05,0.02),(69.25,0.16),(69.45,-0.12),(69.65,-0.02),(69.85,0.09),
    (70.05,-0.09),(70.25,0.12),(70.45,-0.03),(70.65,-0.22),(70.85,0.05),(71.05,0.17),(71.25,-0.11),(71.45,0.0),(71.65,-0.17),(71.85,0.07),
    (72.05,-0.05),(72.25,0.14),(72.45,-0.15),(72.65,0.03),(72.85,-0.09),(73.05,0.19),(73.25,-0.02),(73.45,-0.20),(73.65,0.10),(73.85,-0.07),
    (74.05,0.07),(74.25,-0.12),(74.45,0.15),(74.65,-0.04),(74.85,0.02),(75.05,-0.19),(75.25,0.09),(75.45,-0.08),(75.65,0.17),(75.85,0.0),
    (76.05,-0.14),(76.25,0.04),(76.45,0.12),(76.65,-0.09),(76.85,-0.21),(77.05,0.07),(77.25,-0.04),(77.45,0.15),(77.65,-0.12),(77.85,0.02),
    (78.05,-0.06),(78.25,0.10),(78.45,-0.18),(78.65,0.05),(78.85,-0.02),(79.05,0.14),(79.25,-0.10),(79.45,-0.23),(79.65,0.08),(79.85,-0.05),
    (80.05,0.06),(80.25,-0.14),(80.45,0.16),(80.65,-0.04),(80.85,0.01),(81.05,-0.19),(81.25,0.12),(81.45,-0.08),(81.65,0.04),(81.85,-0.11),
    (82.05,0.09),(82.25,-0.16),(82.45,0.03),(82.65,0.18),(82.85,-0.07),(83.05,0.11),(83.25,-0.03),(83.45,-0.18),(83.65,0.07),(83.85,0.15),
    (84.05,-0.09),(84.25,0.04),(84.45,0.19),(84.65,-0.02),(84.85,0.11),(85.05,-0.14),(85.25,0.06),(85.45,-0.07),(85.65,0.14),(85.85,0.02),
    (86.05,0.17),(86.25,-0.04),(86.45,0.07),(86.65,-0.15),(86.85,0.13),(87.05,-0.06),(87.25,0.03),(87.45,0.20),(87.65,-0.10),(87.85,0.09),
    (88.05,-0.03),(88.25,0.14),(88.45,0.01),(88.65,-0.12),(88.85,0.07),(89.05,0.21),(89.25,-0.08),(89.45,0.10),(89.65,-0.15),(89.85,0.04),
    (90.05,0.18),(90.25,-0.05),(90.45,0.11),(90.65,0.03),(90.85,-0.11),(91.05,0.14),(91.25,0.06),(91.45,-0.07),(91.65,0.20),(91.85,-0.01),
    (92.05,0.09),(92.25,-0.12),(92.45,0.16),(92.65,0.04),(92.85,-0.04),(93.05,0.22),(93.25,0.07),(93.45,-0.10),(93.65,0.13),(93.85,0.02),
    (94.05,-0.08),(94.25,0.15),(94.45,0.05),(94.65,0.22),(94.85,-0.02),(95.05,0.10),(95.25,-0.09),(95.45,0.17),(95.65,0.01),(95.85,0.12),
    (96.05,-0.05),(96.25,0.09),(96.45,0.20),(96.65,-0.10),(96.85,0.05),(97.05,0.14),(97.25,-0.03),(97.45,0.08),(97.65,-0.12),(97.85,0.18),
    (98.05,0.03),(98.25,-0.08),(98.45,0.12),(98.65,-0.02),(98.85,0.16),(99.05,-0.13),(99.25,0.06),(99.45,-0.05),(99.65,0.11),(99.85,0.0),
    (100.05,-0.10),(100.25,0.09),(100.45,-0.04),(100.65,0.14),(100.85,-0.16),(101.05,0.03),(101.25,-0.07),(101.45,0.10),(101.65,-0.13),(101.85,-0.01),
    (102.05,0.05),(102.25,-0.11),(102.45,-0.03),(102.65,0.09),(102.85,-0.18),(103.05,-0.06),(103.25,0.03),(103.45,-0.14),(103.65,0.07),(103.85,-0.09),
    (104.05,-0.02),(104.25,-0.16),(104.45,0.05),(104.65,-0.07),(104.85,-0.20),(105.05,0.02),(105.25,-0.11),(105.45,-0.24),(105.65,-0.04),(105.85,-0.15),
]

# ---------------- plotting ----------------
band_green = "#2ca02c"


def draw_panel(ax, title, points, edges, med_theta, med_value, upper, lower):
    band_theta = [edges[0]] + list(med_theta) + [edges[-1]]
    for e in edges:
        ax.axvline(e, color="pink", alpha=0.55, lw=1.0, zorder=1)
    ax.fill_between(band_theta, lower, upper, color="blue", alpha=0.1, zorder=1.5)
    ax.axhline(0, color="grey", ls=(0, (1, 1)), lw=1.5, zorder=2)
    th = [p[0] for p in points]
    dr = [p[1] for p in points]
    ax.scatter(th, dr, s=6, color="#1f77b4", linewidths=0, zorder=3)
    ax.plot(band_theta, upper, "--", color=band_green, lw=2, zorder=4)
    ax.plot(band_theta, lower, "--", color=band_green, lw=2, zorder=4)
    ax.plot(med_theta, med_value, "-", color=band_green, lw=2, zorder=5)
    ax.plot(med_theta, med_value, "o", color="red", ms=3, zorder=6)

    ax.set_xlim(0, 170)
    ax.set_ylim(-1, 1)
    ax.xaxis.set_major_locator(MultipleLocator(20))
    ax.xaxis.set_minor_locator(MultipleLocator(5))
    ax.yaxis.set_major_locator(MultipleLocator(0.25))
    ax.yaxis.set_minor_locator(MultipleLocator(0.05))
    ax.tick_params(which="both", direction="inout", top=True, right=True)
    ax.tick_params(which="major", length=8, width=1.2, labelsize=14, pad=2)
    ax.tick_params(which="minor", length=4, width=1.0)
    for sp in ax.spines.values():
        sp.set_linewidth(1.2)
    ax.set_title(title, fontsize=20.5, pad=11)
    ax.set_xlabel(x_label, fontsize=17, labelpad=0)
    ax.set_ylabel(y_label, fontsize=17)


fig = plt.figure(figsize=(11.36, 11.21), dpi=100)
ax1 = fig.add_axes([0.095, 0.554, 0.823, 0.406])
ax2 = fig.add_axes([0.095, 0.050, 0.823, 0.407])

draw_panel(ax1, north_title, north_points, north_bin_edges, north_med_theta,
           north_med_value, north_upper, north_lower)
draw_panel(ax2, south_title, south_points, south_bin_edges, south_med_theta,
           south_med_value, south_upper, south_lower)

fig.savefig("out.png", dpi=100)
